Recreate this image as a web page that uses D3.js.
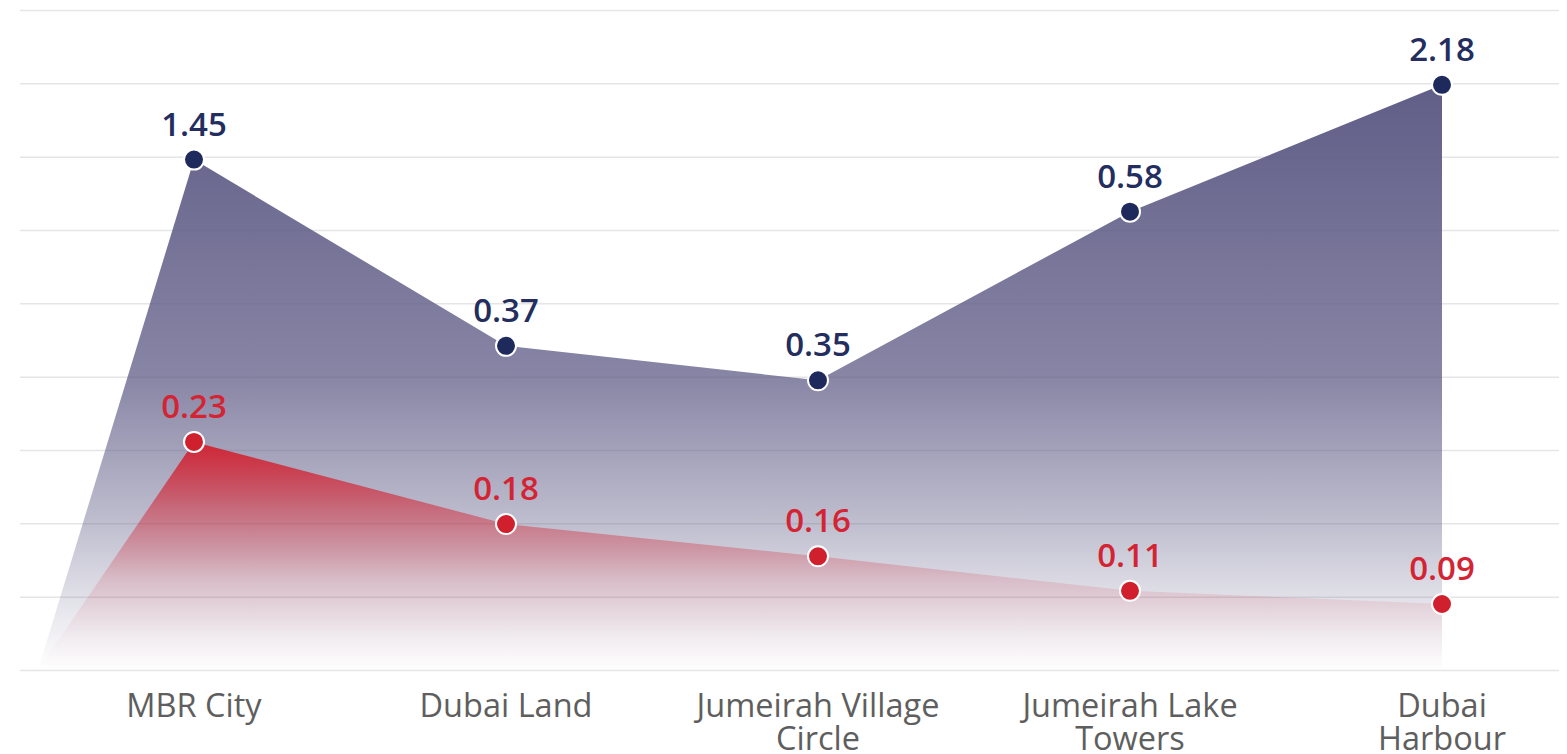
<!DOCTYPE html>
<html>
<head>
<meta charset="utf-8">
<title>Dubai areas</title>
<script src="https://cdnjs.cloudflare.com/ajax/libs/d3/7.8.5/d3.min.js"></script>
<style>
  body { margin: 0; background: #fff; }
  .grid line { stroke: rgba(0, 0, 0, 0.1); stroke-width: 1.5; }
  .grid path, .xaxis path { display: none; }
  .xaxis text { font-family: "Open Sans", sans-serif; font-size: 32.5px; fill: #5e5e5e; }
  .val { font-family: "Open Sans", sans-serif; font-size: 33px; font-weight: 600; text-anchor: middle; }
</style>
</head>
<body>
<script>
// categories and the two series (labels shown, levels as plotted)
var areas = ["MBR City", "Dubai Land", "Jumeirah Village Circle", "Jumeirah Lake Towers", "Dubai Harbour"];
var areaLines = [["MBR City"], ["Dubai Land"], ["Jumeirah Village", "Circle"], ["Jumeirah Lake", "Towers"], ["Dubai", "Harbour"]];
var navyLabels = ["1.45", "0.37", "0.35", "0.58", "2.18"];
var navyLevels = [6.96, 4.42, 3.95, 6.25, 7.98];
var redLabels = ["0.23", "0.18", "0.16", "0.11", "0.09"];
var redLevels = [3.11, 1.99, 1.55, 1.08, 0.90];
var gridTicks = d3.range(0, 10);

var W = 1567, H = 754;

var svg = d3.select("body").append("svg")
    .attr("width", W)
    .attr("height", H);

var x = d3.scaleBand()
    .domain(areas)
    .range([38, 1598]);

var y = d3.scaleLinear()
    .domain([0, 9])
    .range([670, 10]);

// gridlines
svg.append("g")
    .attr("class", "grid")
    .attr("transform", "translate(20,0)")
    .call(d3.axisRight(y).tickValues(gridTicks).tickSize(1539).tickFormat(""));

// gradients
var defs = svg.append("defs");

function gradient(id, color, top, stops) {
    var g = defs.append("linearGradient")
        .attr("id", id)
        .attr("gradientUnits", "userSpaceOnUse")
        .attr("x1", 0).attr("x2", 0)
        .attr("y1", top).attr("y2", y(0));
    stops.forEach(function(s) {
        g.append("stop")
            .attr("offset", s[0])
            .attr("stop-color", color)
            .attr("stop-opacity", s[1]);
    });
}

gradient("navyFill", "#605d87", y(d3.max(navyLevels)),
    [[0, 1], [0.5, 0.75], [0.75, 0.4], [0.9, 0.15], [1, 0]]);
gradient("redFill", "#d3202f", y(d3.max(redLevels)),
    [[0, 0.95], [0.3, 0.5], [0.6, 0.15], [0.85, 0.03], [1, 0]]);

function cx(d) { return x(d) + x.bandwidth() / 2; }

var area = d3.area()
    .x(function(d) { return d.x; })
    .y0(y(0))
    .y1(function(d) { return y(d.v); });

function seriesPoints(levels) {
    var pts = [{ x: x.range()[0], v: 0 }];
    areas.forEach(function(a, i) {
        pts.push({ x: cx(a), v: levels[i] });
    });
    return pts;
}

svg.append("path")
    .attr("d", area(seriesPoints(navyLevels)))
    .attr("fill", "url(#navyFill)");

svg.append("path")
    .attr("d", area(seriesPoints(redLevels)))
    .attr("fill", "url(#redFill)");

// markers and value labels
function drawSeries(levels, labels, dot, textColor) {
    var g = svg.append("g");
    g.selectAll("circle")
        .data(areas)
        .enter().append("circle")
        .attr("cx", cx)
        .attr("cy", function(d, i) { return y(levels[i]); })
        .attr("r", 10)
        .attr("fill", dot)
        .attr("stroke", "#fff")
        .attr("stroke-width", 2);
    g.selectAll("text")
        .data(areas)
        .enter().append("text")
        .attr("class", "val")
        .attr("x", cx)
        .attr("y", function(d, i) { return y(levels[i]) - 24; })
        .attr("fill", textColor)
        .text(function(d, i) { return labels[i]; });
}

drawSeries(navyLevels, navyLabels, "#1f2a5c", "#232d5e");
drawSeries(redLevels, redLabels, "#d0202d", "#d42434");

// category axis
var xAxis = svg.append("g")
    .attr("class", "xaxis")
    .attr("transform", "translate(0," + y(0) + ")")
    .call(d3.axisBottom(x).tickSize(0));

xAxis.selectAll(".tick text").each(function(d, i) {
    var t = d3.select(this).text("").attr("y", 0).attr("dy", null);
    areaLines[i].forEach(function(line, j) {
        t.append("tspan")
            .attr("x", 0)
            .attr("y", 47 + j * 33)
            .text(line);
    });
});
</script>
</body>
</html>
